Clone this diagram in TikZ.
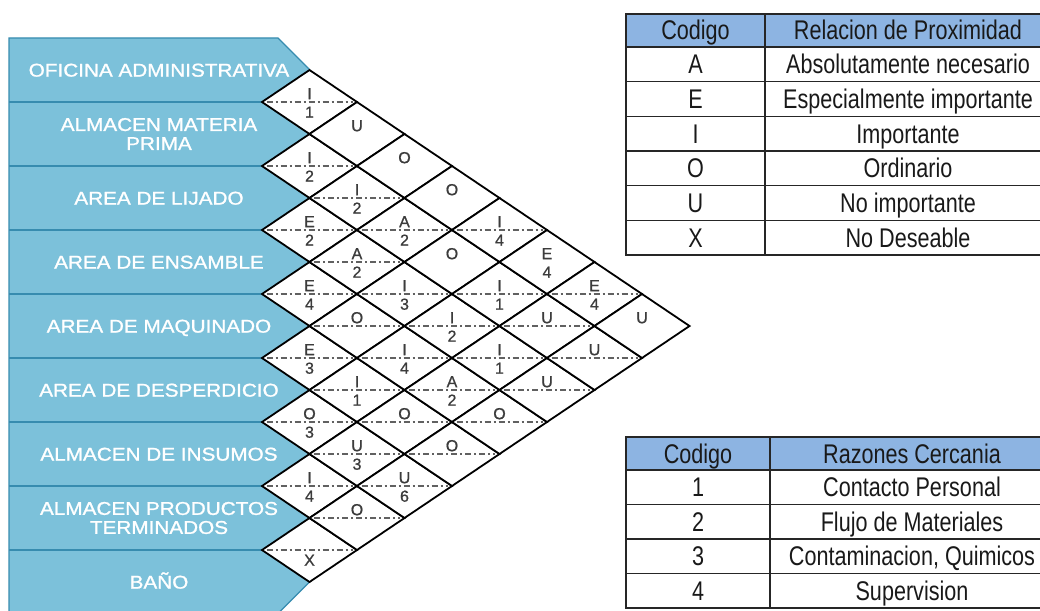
\documentclass[tikz,border=0pt]{standalone}
\usepackage{fontspec}
\setmainfont{Liberation Sans}
\newfontfamily\tabfont[FakeStretch=0.8]{Liberation Sans}
\newfontfamily\panfont[FakeStretch=1.12,FakeBold=1.2]{Liberation Sans}
\newfontfamily\cellfont[FakeBold=0.8]{Liberation Sans}
\definecolor{panelfill}{RGB}{124,193,218}
\definecolor{panelline}{RGB}{55,140,175}
\definecolor{headfill}{RGB}{141,180,226}
\definecolor{cellink}{RGB}{60,60,60}
\begin{document}
\begin{tikzpicture}[x=1pt,y=-1pt,
  panel/.style={fill=panelfill,draw=panelline,line width=1.2pt},
  sepline/.style={draw=panelline,line width=1.4pt},
  panlabel/.style={text=white,font=\panfont\fontsize{18.5}{19}\selectfont,inner sep=0pt,text height=13.2pt,text depth=0pt},
  panlabeltwo/.style={text=white,font=\panfont\fontsize{18.5}{19}\selectfont,inner sep=0pt,align=center},
  cellbox/.style={fill=white,draw=black,line width=1.8pt,line join=miter},
  midline/.style={draw=black!62,line width=1.5pt,dash pattern=on 6pt off 3pt on 2pt off 3pt},
  celltext/.style={text=cellink,font=\cellfont\fontsize{16}{16}\selectfont,inner sep=0pt,text height=11.4pt,text depth=0pt},
  tabline/.style={draw=black!85,line width=1.3pt},
  tabtext/.style={text=black!90,font=\tabfont\fontsize{27}{27}\selectfont,inner sep=0pt,anchor=base},
]
\useasboundingbox (0,0) rectangle (1040,610);
\clip (0,0) rectangle (1040,610);

% left panel
\path[panel] (9,38) -- (278,38) -- (309.5,69.5) -- (309.5,582) -- (270,621.5) -- (9,621.5) -- cycle;
\foreach \k in {1,...,8} \draw[sepline] (9,38+64*\k) -- (262,38+64*\k);

\node[panlabel] (p0) at (159,70) {OFICINA ADMINISTRATIVA};
\node[panlabeltwo] (p1) at (159,134) {ALMACEN MATERIA\\PRIMA};
\node[panlabel] (p2) at (159,198) {AREA DE LIJADO};
\node[panlabel] (p3) at (159,262) {AREA DE ENSAMBLE};
\node[panlabel] (p4) at (159,326) {AREA DE MAQUINADO};
\node[panlabel] (p5) at (159,390) {AREA DE DESPERDICIO};
\node[panlabel] (p6) at (159,454) {ALMACEN DE INSUMOS};
\node[panlabeltwo] (p7) at (159,518) {ALMACEN PRODUCTOS\\TERMINADOS};
\node[panlabel] (p8) at (159,582) {BAÑO};

% relationship diamonds
\def\cells{0/1/I/1/1, 1/2/I/2/1, 2/3/E/2/1, 3/4/E/4/1, 4/5/E/3/1, 5/6/O/3/1, 6/7/I/4/1, 7/8/{}/X/1,
  0/2/U/{}/0, 1/3/I/2/1, 2/4/A/2/1, 3/5/O/{}/1, 4/6/I/1/1, 5/7/U/3/1, 6/8/O/{}/1,
  0/3/O/{}/0, 1/4/A/2/1, 2/5/I/3/1, 3/6/I/4/1, 4/7/O/{}/1, 5/8/U/6/1,
  0/4/O/{}/0, 1/5/O/{}/0, 2/6/I/2/1, 3/7/A/2/1, 4/8/O/{}/1,
  0/5/I/4/1, 1/6/I/1/1, 2/7/I/1/1, 3/8/O/{}/1,
  0/6/E/4/0, 1/7/U/{}/1, 2/8/U/{}/1,
  0/7/E/4/1, 1/8/U/{}/1,
  0/8/U/{}/0}
\foreach \ci/\cj/\cl/\cn/\fl in \cells {
  \pgfmathsetmacro\cx{262+47.5*(\cj-\ci)}
  \pgfmathsetmacro\cy{38+32*(\ci+\cj+1)}
  \path[cellbox] (\cx-47.5,\cy) -- (\cx,\cy-32) -- (\cx+47.5,\cy) -- (\cx,\cy+32) -- cycle;
}
\foreach \ci/\cj/\cl/\cn/\fl in \cells {
  \pgfmathsetmacro\cx{262+47.5*(\cj-\ci)}
  \pgfmathsetmacro\cy{38+32*(\ci+\cj+1)}
  \ifnum\fl=1 \draw[midline] (\cx-43,\cy) -- (\cx+43,\cy); \fi
  \node[celltext] (l\ci\cj) at (\cx,\cy-8.5) {\cl};
  \node[celltext] (n\ci\cj) at (\cx,\cy+10) {\cn};
}

% table 1
\path[fill=headfill] (626,14) rectangle (1051,47);
\draw[tabline] (626,14) rectangle (1051,255);
\foreach \y in {47,81.67,116.33,151,185.67,220.33} \draw[tabline] (626,\y) -- (1051,\y);
\draw[tabline] (765,14) -- (765,255);
\node[tabtext] (ah1) at (695.5,40) {Codigo};
\node[tabtext] (ah2) at (908,40) {Relacion de Proximidad};
\node[tabtext] (aa1) at (695.5,73.8) {A};
\node[tabtext] (aa2) at (908,73.8) {Absolutamente necesario};
\node[tabtext] (ab1) at (695.5,108.5) {E};
\node[tabtext] (ab2) at (908,108.5) {Especialmente importante};
\node[tabtext] (ac1) at (695.5,143.2) {I};
\node[tabtext] (ac2) at (908,143.2) {Importante};
\node[tabtext] (ad1) at (695.5,177.8) {O};
\node[tabtext] (ad2) at (908,177.8) {Ordinario};
\node[tabtext] (ae1) at (695.5,212.5) {U};
\node[tabtext] (ae2) at (908,212.5) {No importante};
\node[tabtext] (af1) at (695.5,247.2) {X};
\node[tabtext] (af2) at (908,247.2) {No Deseable};

% table 2
\path[fill=headfill] (626,437) rectangle (1054,470);
\draw[tabline] (626,437) rectangle (1054,608);
\foreach \y in {470,504.5,539,573.5} \draw[tabline] (626,\y) -- (1054,\y);
\draw[tabline] (770,437) -- (770,608);
\node[tabtext] (bh1) at (698,463) {Codigo};
\node[tabtext] (bh2) at (912,463) {Razones Cercania};
\node[tabtext] (ba1) at (698,496.7) {1};
\node[tabtext] (ba2) at (912,496.7) {Contacto Personal};
\node[tabtext] (bb1) at (698,531.2) {2};
\node[tabtext] (bb2) at (912,531.2) {Flujo de Materiales};
\node[tabtext] (bc1) at (698,565.7) {3};
\node[tabtext] (bc2) at (912,565.7) {Contaminacion, Quimicos};
\node[tabtext] (bd1) at (698,600.2) {4};
\node[tabtext] (bd2) at (912,600.2) {Supervision};
\end{tikzpicture}
\end{document}
